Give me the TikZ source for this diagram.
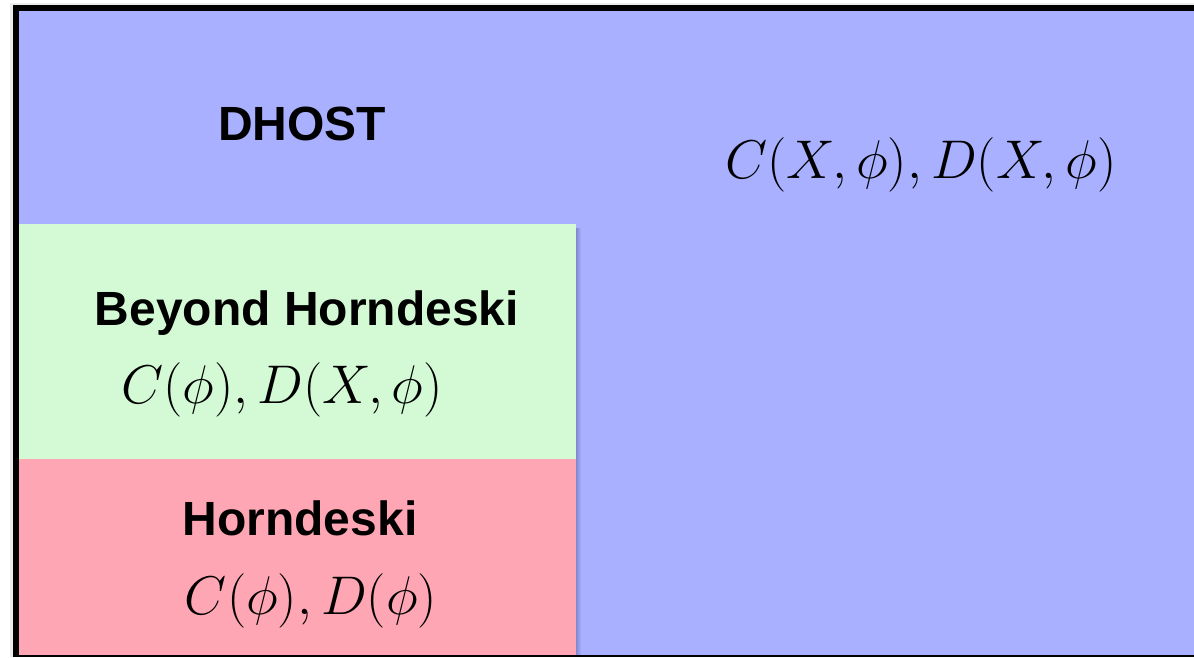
\RequirePackage{fix-cm}
\documentclass[tikz,border=0pt]{standalone}
\usepackage{fontspec}
\newfontfamily\hv{Liberation Sans}
\definecolor{dblue}{HTML}{A8B0FF}
\definecolor{dgreen}{HTML}{D3FAD5}
\definecolor{dpink}{HTML}{FFA6B4}
\definecolor{shadowblue}{HTML}{8088D0}
\tikzset{
  title/.style={anchor=base, inner sep=0pt, font=\hv\bfseries\fontsize{48}{56}\selectfont},
  formula/.style={anchor=base, inner sep=0pt, font=\fontsize{54.5}{62}\selectfont},
}
\begin{document}
\begin{tikzpicture}[x=1pt,y=-1pt]
\useasboundingbox (0,0) rectangle (1194,657);
\fill[white] (0,0) rectangle (1194,657);
% soft outer shadow
\fill[black!8] (10,3) rectangle (13,657);
\fill[black!8] (10,3) rectangle (1194,5);
% regions
\fill[dblue] (19,11) rectangle (1194,655);
\shade[left color=shadowblue, right color=dblue] (576,228) rectangle (581,655);
\fill[dgreen] (19,224) rectangle (576,459);
\fill[dpink] (19,459) rectangle (576,655);
% frame
\fill[black] (13,5) rectangle (19,657);
\fill[black] (13,5) rectangle (1194,11);
\fill[black] (13,655) rectangle (1194,657);
% texts
\node[title] (dhost) at (302,140) {DHOST};
\node[formula] (dhostf) at (921,178) {$C(X,\phi),D(X,\phi)$};
\node[title] (beyond) at (307,325) {Beyond Horndeski};
\node[formula] (beyondf) at (282,403) {$C(\phi),D(X,\phi)$};
\node[title] (horn) at (300,535) {Horndeski};
\node[formula] (hornf) at (311,614) {$C(\phi),D(\phi)$};
\end{tikzpicture}
\end{document}
